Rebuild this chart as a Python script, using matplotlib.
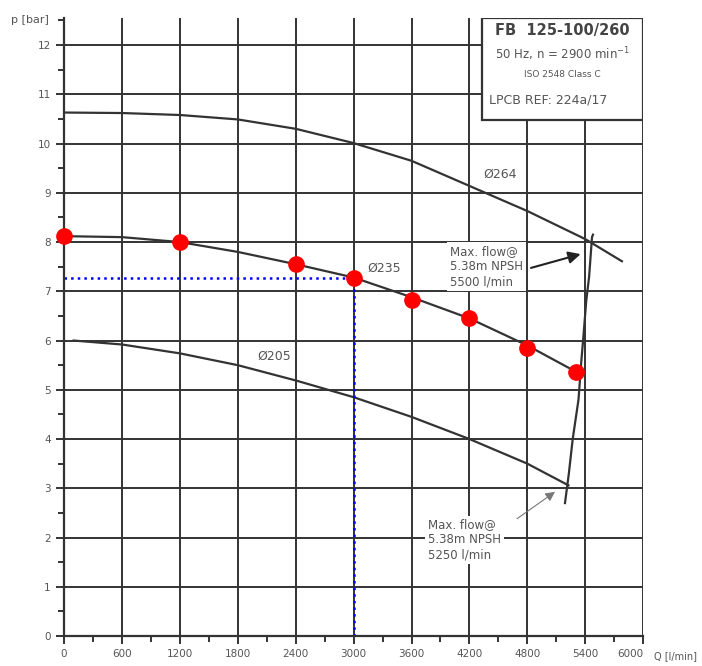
import matplotlib.pyplot as plt
from matplotlib.ticker import MultipleLocator

# pump curves, Q in l/min, p in bar
q264 = [0, 600, 1200, 1800, 2400, 3000, 3600, 4200, 4800, 5400, 5780]
p264 = [10.63, 10.62, 10.58, 10.49, 10.3, 10.01, 9.65, 9.14, 8.63, 8.06, 7.61]
q235 = [0, 600, 1200, 1800, 2400, 3000, 3600, 4200, 4800, 5300]
p235 = [8.12, 8.1, 8.0, 7.8, 7.55, 7.28, 6.88, 6.45, 5.9, 5.37]
q205 = [100, 600, 1200, 1800, 2400, 3000, 3600, 4200, 4800, 5226]
p205 = [6.0, 5.92, 5.74, 5.5, 5.19, 4.85, 4.45, 4.0, 3.5, 3.06]

# max flow limit line
q_lim = [5190, 5230, 5270, 5330, 5360, 5380, 5410, 5440, 5470, 5480]
p_lim = [2.7, 3.3, 4.0, 4.8, 5.6, 6.06, 6.8, 7.3, 8.1, 8.15]

# measured points
q_pts = [0, 1200, 2400, 3000, 3600, 4200, 4800, 5300]
p_pts = [8.12, 8.0, 7.55, 7.28, 6.83, 6.45, 5.85, 5.37]
q_duty, p_duty = 3000, 7.28

fig = plt.figure(figsize=(7.02, 6.66), dpi=100)
ax = fig.add_axes([0.0912, 0.045, 0.825, 0.928])

lc = '#333333'
tc = '#555555'
ax.plot(q264, p264, color=lc, lw=1.6)
ax.plot(q235, p235, color=lc, lw=1.6)
ax.plot(q205, p205, color=lc, lw=1.6)
ax.plot(q_lim, p_lim, color=lc, lw=1.6)

ax.plot([0, q_duty], [p_duty, p_duty], color='blue', ls=':', lw=1.8)
ax.plot([q_duty, q_duty], [0, p_duty], color='blue', ls=':', lw=1.8)
ax.plot(q_pts, p_pts, 'o', color='red', ms=11, zorder=5, clip_on=False)

ax.text(4340, 9.3, 'Ø264', color=tc, fontsize=9)
ax.text(3140, 7.4, 'Ø235', color=tc, fontsize=9)
ax.text(2000, 5.62, 'Ø205', color=tc, fontsize=9)

bb = dict(facecolor='white', edgecolor='none', pad=2)
ax.text(4000, 7.5, 'Max. flow@\n5.38m NPSH\n5500 l/min', color=tc, fontsize=8.5,
        va='center', linespacing=1.2, bbox=bb)
ax.annotate('', xy=(5380, 7.77), xytext=(4810, 7.46),
            arrowprops=dict(arrowstyle='-|>', color='#222222', lw=1.5, mutation_scale=18))
ax.text(3770, 1.95, 'Max. flow@\n5.38m NPSH\n5250 l/min', color=tc, fontsize=8.5,
        va='center', linespacing=1.2, bbox=bb)
ax.annotate('', xy=(5110, 2.96), xytext=(4670, 2.35),
            arrowprops=dict(arrowstyle='-|>', color='#777777', lw=0.8, mutation_scale=14))

# title box
box = plt.Rectangle((4330, 10.47), 1670, 2.08, facecolor='white', edgecolor=lc, lw=1.6, zorder=6)
ax.add_patch(box)
ax.text(5165, 12.2, 'FB  125-100/260', color='#444444', fontsize=10.5, fontweight='bold', ha='center', zorder=7)
ax.text(5165, 11.72, '50 Hz, n = 2900 min$^{-1}$', color=tc, fontsize=8.5, ha='center', zorder=7)
ax.text(5165, 11.35, 'ISO 2548 Class C', color=tc, fontsize=6.5, ha='center', zorder=7)
ax.text(4400, 10.82, 'LPCB REF: 224a/17', color=tc, fontsize=9, zorder=7)

ax.set_xlim(0, 6000)
ax.set_ylim(0, 12.55)
ax.xaxis.set_major_locator(MultipleLocator(600))
ax.xaxis.set_minor_locator(MultipleLocator(300))
ax.yaxis.set_major_locator(MultipleLocator(1))
ax.yaxis.set_minor_locator(MultipleLocator(0.5))
ax.set_xticks(range(0, 6001, 600))
ax.set_xticklabels([str(v) for v in range(0, 6001, 600)])
ax.set_yticks(range(0, 13))
ax.grid(True, which='major', color=lc, lw=1.4)
ax.tick_params(which='both', direction='out', colors=lc, labelcolor=tc, labelsize=7.5)
ax.tick_params(which='major', length=6, width=1.4)
ax.tick_params(which='minor', length=4, width=1.4)
for s in ['top', 'right']:
    ax.spines[s].set_visible(False)
for s in ['left', 'bottom']:
    ax.spines[s].set_color(lc)
    ax.spines[s].set_linewidth(1.6)
ax.get_xticklabels()[-1].set_horizontalalignment('right')
fig.text(0.932, 0.0155, 'Q [l/min]', color=tc, fontsize=7, va='center')
fig.text(0.015, 0.965, 'p [bar]', color=tc, fontsize=8)

fig.savefig('out.png', dpi=100)
